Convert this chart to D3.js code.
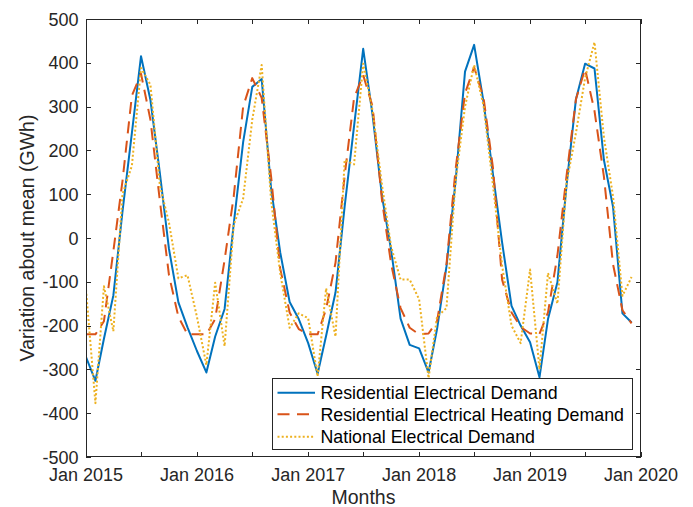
<!DOCTYPE html>
<html>
<head>
<meta charset="utf-8">
<script src="https://cdn.jsdelivr.net/npm/d3@7/dist/d3.min.js"></script>
<style>
  html, body { margin: 0; padding: 0; background: #fff; }
  svg { display: block; font-family: "Liberation Sans", Arial, Helvetica, sans-serif; }
</style>
</head>
<body>
<svg id="chart" width="693" height="507"></svg>
<script>
// ---- Data (monthly, Jan 2015 .. Dec 2019) ----
const startYear = 2015;
const residential = [
  -272, -326, -230, -131, 60, 240, 415, 315, 148, -25, -147, -204,
  -258, -307, -225, -162, 32, 219, 345, 363, 113, -33, -146, -185,
  -240, -310, -223, -124, 72, 256, 432, 280, 95, -28, -184, -244,
  -252, -307, -208, -65, 130, 380, 441, 310, 145, -10, -155, -200,
  -238, -318, -185, -101, 120, 317, 398, 387, 178, 71, -172, -193
];
const heating = [
  -220, -220, -190, -30, 130, 325, 375, 270, 85, -85, -180, -220,
  -220, -220, -185, -50, 95, 300, 365, 320, 140, -70, -170, -208,
  -220, -220, -162, -56, 142, 320, 372, 300, 85, -60, -160, -205,
  -220, -218, -190, -60, 157, 330, 390, 320, 160, -95, -170, -203,
  -218, -219, -170, -40, 142, 317, 386, 290, 140, -60, -165, -195
];
const national = [
  -118, -377, -110, -213, 100, 165, 388, 350, 120, 35, -92, -85,
  -180, -290, -102, -247, 30, 90, 270, 395, 85, -80, -205, -172,
  -183, -316, -115, -225, 178, 168, 398, 290, 120, -20, -95, -95,
  -140, -320, -180, -160, 130, 300, 395, 302, 120, -63, -200, -240,
  -72, -300, -80, -150, 125, 240, 365, 447, 230, 95, -132, -89
];
const seriesNames = [
  "Residential Electrical Demand",
  "Residential Electrical Heating Demand",
  "National Electrical Demand"
];
const yTicks = [-500, -400, -300, -200, -100, 0, 100, 200, 300, 400, 500];
const xLabel = "Months";
const yLabel = "Variation about mean (GWh)";

// ---- Layout ----
const svg = d3.select("#chart");
const L = 86, R = 641, T = 19, B = 457;
const axisColor = "#262626";

const months = residential.map((_, i) => new Date(startYear, i, 1));
const x = d3.scaleTime().domain([new Date(2015, 0, 1), new Date(2020, 0, 1)]).range([L, R]);
const y = d3.scaleLinear().domain([-500, 500]).range([B, T]);

const xTicks = d3.timeMonth.every(6).range(new Date(2015, 0, 1), new Date(2020, 0, 2));
const fmt = d3.timeFormat("%b %Y");

// background
svg.append("rect").attr("x", 0).attr("y", 0).attr("width", 693).attr("height", 507).attr("fill", "#fff");

// ---- Lines ----
svg.append("defs").append("clipPath").attr("id", "clip")
  .append("rect").attr("x", L).attr("y", T).attr("width", R - L).attr("height", B - T);

const line = d3.line().x((d, i) => x(months[i])).y(d => y(d));
const styles = [
  { data: residential, color: "#0072BD", dash: null },
  { data: heating, color: "#D95319", dash: "12,7.5" },
  { data: national, color: "#EDB120", dash: "2,2.2" }
];
const g = svg.append("g").attr("clip-path", "url(#clip)");
styles.forEach(s => {
  g.append("path").datum(s.data)
    .attr("d", line)
    .attr("fill", "none")
    .attr("stroke", s.color)
    .attr("stroke-width", 2)
    .attr("stroke-linejoin", "round")
    .attr("stroke-dasharray", s.dash);
});

// ---- Axes (box with inward ticks) ----
const ax = svg.append("g");
const tickLen = 5;
// x ticks bottom & top
xTicks.forEach(t => {
  const px = Math.round(x(t)) + 0.5;
  ax.append("line").attr("x1", px).attr("x2", px).attr("y1", B).attr("y2", B - tickLen)
    .attr("stroke", axisColor).attr("stroke-width", 1);
  ax.append("line").attr("x1", px).attr("x2", px).attr("y1", T).attr("y2", T + tickLen)
    .attr("stroke", axisColor).attr("stroke-width", 1);
  if (t.getMonth() === 0) {
    ax.append("text").attr("x", x(t)).attr("y", 481)
      .attr("text-anchor", "middle").attr("font-size", 18).attr("fill", axisColor)
      .text(fmt(t));
  }
});
// y ticks left & right
yTicks.forEach(v => {
  const py = Math.round(y(v)) + 0.5;
  ax.append("line").attr("x1", L).attr("x2", L + tickLen).attr("y1", py).attr("y2", py)
    .attr("stroke", axisColor).attr("stroke-width", 1);
  ax.append("line").attr("x1", R).attr("x2", R - tickLen).attr("y1", py).attr("y2", py)
    .attr("stroke", axisColor).attr("stroke-width", 1);
  ax.append("text").attr("x", 78.5).attr("y", y(v) + 6.5)
    .attr("text-anchor", "end").attr("font-size", 18).attr("fill", axisColor)
    .text(String(v));
});
// box
ax.append("rect").attr("x", L + 0.5).attr("y", T + 0.5).attr("width", R - L - 1).attr("height", B - T - 1)
  .attr("fill", "none").attr("stroke", axisColor).attr("stroke-width", 1);

// axis labels
svg.append("text").attr("x", (L + R) / 2).attr("y", 504)
  .attr("text-anchor", "middle").attr("font-size", 19.5).attr("fill", axisColor).text(xLabel);
svg.append("text").attr("transform", `translate(34,${(T + B) / 2}) rotate(-90)`)
  .attr("text-anchor", "middle").attr("font-size", 19.5).attr("fill", axisColor).text(yLabel);

// ---- Legend ----
const lg = svg.append("g");
lg.append("rect").attr("x", 272.5).attr("y", 378.5).attr("width", 360).attr("height", 71)
  .attr("fill", "#fff").attr("stroke", axisColor).attr("stroke-width", 1);
const rowY = [392.7, 414.3, 436.7];
styles.forEach((s, i) => {
  lg.append("line").attr("x1", 277.5).attr("x2", 315).attr("y1", rowY[i]).attr("y2", rowY[i])
    .attr("stroke", s.color).attr("stroke-width", 2).attr("stroke-dasharray", s.dash);
  lg.append("text").attr("x", 320.5).attr("y", rowY[i] + 6.4)
    .attr("font-size", 17.8).attr("fill", "#000").text(seriesNames[i]);
});
</script>
</body>
</html>
